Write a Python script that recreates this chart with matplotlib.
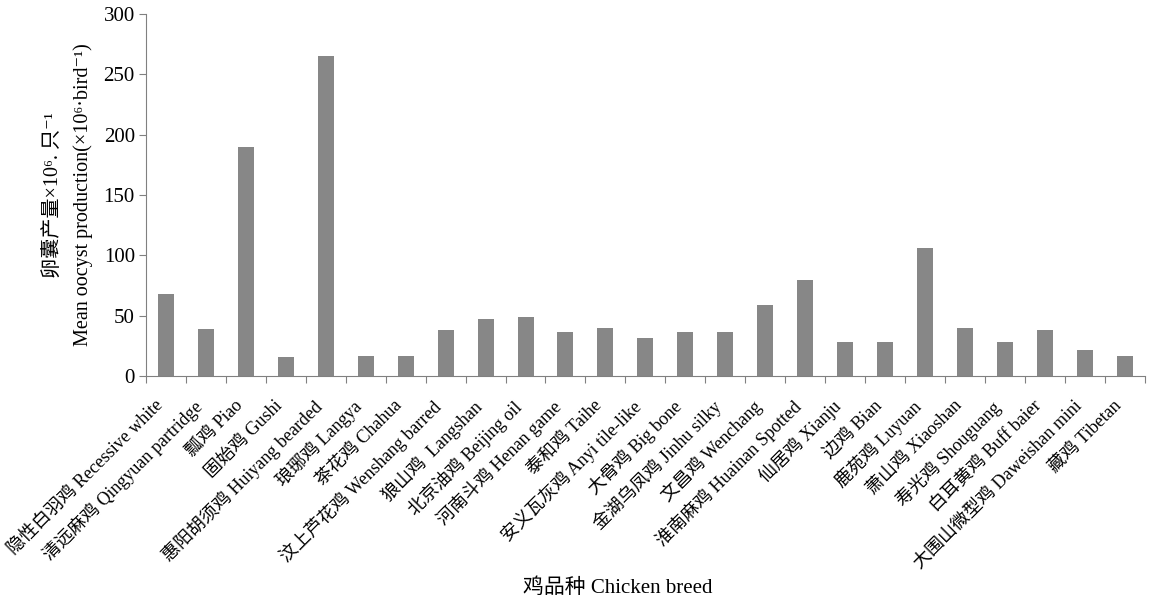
import numpy as np
import matplotlib
matplotlib.use("Agg")
from matplotlib import pyplot as plt

FONTS = ['Liberation Serif', 'Noto Sans CJK SC', 'DejaVu Sans']
plt.rcParams['font.family'] = FONTS

# noms des races
breeds = ["隐性白羽鸡 Recessive white", "清远麻鸡 Qingyuan partridge", "瓢鸡 Piao",
          "固始鸡 Gushi", "惠阳胡须鸡 Huiyang bearded", "琅琊鸡 Langya",
          "茶花鸡 Chahua", "汶上芦花鸡 Wenshang barred", "狼山鸡  Langshan",
          "北京油鸡 Beijing oil", "河南斗鸡 Henan game", "泰和鸡 Taihe",
          "安义瓦灰鸡 Anyi tile-like", "大骨鸡 Big bone", "金湖乌凤鸡 Jinhu silky",
          "文昌鸡 Wenchang", "淮南麻鸡 Huainan Spotted", "仙居鸡 Xianju",
          "边鸡 Bian", "鹿苑鸡 Luyuan", "萧山鸡 Xiaoshan", "寿光鸡 Shouguang",
          "白耳黄鸡 Buff baier", "大围山微型鸡 Daweishan mini", "藏鸡 Tibetan"]
oocysts = [68, 39, 190, 16, 265, 17, 17, 38, 47, 49, 36.5, 40, 32, 36.5, 36.5,
           59, 79.5, 28, 28, 106, 40, 28, 38, 22, 17]
yticks = [0, 50, 100, 150, 200, 250, 300]

fig = plt.figure(figsize=(11.54, 6.02), dpi=100)
ax = fig.add_axes([0.1265, 0.375, 0.8655, 0.602])

x = np.arange(len(breeds))
ax.bar(x, oocysts, width=0.4, color='#878787')

ax.set_xlim(-0.5, len(breeds) - 0.5)
ax.set_ylim(0, 300)
ax.set_yticks(yticks)
ax.set_yticklabels([str(v) for v in yticks], fontsize=15)

# ticks entre les categories
ax.set_xticks(np.arange(len(breeds) + 1) - 0.5)
ax.set_xticklabels([])
ax.set_xticks(x, minor=True)
ax.set_xticklabels(breeds, minor=True, rotation=45, ha='right', va='top',
                   fontsize=13)
ax.tick_params(axis='x', which='minor', length=0, pad=15)
ax.tick_params(axis='x', which='major', length=5, color='#808080', direction='out')
ax.tick_params(axis='y', length=5, color='#808080', direction='out', pad=3)

for s in ['top', 'right']:
    ax.spines[s].set_visible(False)
for s in ['left', 'bottom']:
    ax.spines[s].set_color('#808080')

ax.set_ylabel("卵囊产量×10⁶. 只⁻¹\nMean oocyst production(×10⁶·bird⁻¹)",
              fontsize=14.5, linespacing=1.6, labelpad=8)
fig.text(0.535, 0.023, "鸡品种 Chicken breed", ha='center', va='center', fontsize=15)

fig.savefig("out.png", dpi=100)
